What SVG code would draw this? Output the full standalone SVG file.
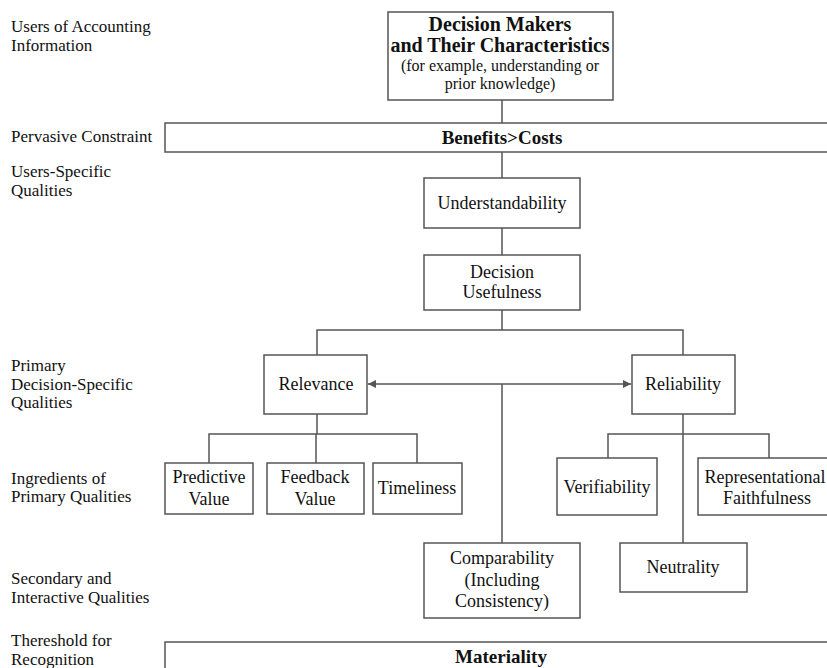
<svg xmlns="http://www.w3.org/2000/svg" width="827" height="668" viewBox="0 0 827 668">
<style>
.box{fill:#fff;stroke:#555;stroke-width:1.5}
.t{font-family:"Liberation Serif","Times New Roman",serif;font-size:18px;fill:#111;text-anchor:middle}
.b{font-family:"Liberation Serif","Times New Roman",serif;font-size:20px;font-weight:bold;fill:#111;text-anchor:middle}
.s{font-family:"Liberation Serif","Times New Roman",serif;font-size:16px;fill:#111;text-anchor:middle}
.lbl{font-family:"Liberation Serif","Times New Roman",serif;font-size:17px;fill:#111}
.c{stroke:#555;stroke-width:1.5;fill:none}
</style>
<defs>
<marker id="ah" viewBox="0 0 10 10" refX="10" refY="5" markerWidth="11" markerHeight="8" markerUnits="userSpaceOnUse" orient="auto-start-reverse">
<path d="M0,0 L10,5 L0,10 z" fill="#555"/>
</marker>
</defs>
<rect width="827" height="668" fill="#fff"/>
<g id="labels">
<text class="lbl" x="11" y="32">Users of Accounting</text>
<text class="lbl" x="11" y="51">Information</text>
<text class="lbl" x="11" y="142">Pervasive Constraint</text>
<text class="lbl" x="11" y="177">Users-Specific</text>
<text class="lbl" x="11" y="196">Qualities</text>
<text class="lbl" x="11" y="371">Primary</text>
<text class="lbl" x="11" y="390">Decision-Specific</text>
<text class="lbl" x="11" y="408">Qualities</text>
<text class="lbl" x="11" y="484">Ingredients of</text>
<text class="lbl" x="11" y="502">Primary Qualities</text>
<text class="lbl" x="11" y="584">Secondary and</text>
<text class="lbl" x="11" y="603">Interactive Qualities</text>
<text class="lbl" x="11" y="646">Thereshold for</text>
<text class="lbl" x="11" y="665">Recognition</text>
</g>
<g id="connectors">
<line class="c" x1="502" y1="100" x2="502" y2="123"/>
<line class="c" x1="502" y1="152" x2="502" y2="178"/>
<line class="c" x1="502" y1="228" x2="502" y2="255"/>
<line class="c" x1="502" y1="310" x2="502" y2="330"/>
<polyline class="c" points="317,355 317,330 683,330 683,355"/>
<line class="c" x1="368" y1="384" x2="631" y2="384" marker-start="url(#ah)" marker-end="url(#ah)"/>
<line class="c" x1="502" y1="384" x2="502" y2="543"/>
<line class="c" x1="317" y1="414" x2="317" y2="434"/>
<polyline class="c" points="209,463 209,434 417,434 417,463"/>
<line class="c" x1="316" y1="434" x2="316" y2="463"/>
<line class="c" x1="683" y1="414" x2="683" y2="543"/>
<polyline class="c" points="608,458 608,434 769,434 769,458"/>
</g>
<g id="decision-makers">
<rect class="box" x="388" y="12" width="225" height="88"/>
<text class="b" x="500" y="31">Decision Makers</text>
<text class="b" x="500" y="52">and Their Characteristics</text>
<text class="s" x="500" y="71">(for example, understanding or</text>
<text class="s" x="500" y="89">prior knowledge)</text>
</g>
<g id="benefits-costs">
<rect class="box" x="165" y="123" width="670" height="29"/>
<text class="b" x="502" y="144" style="font-size:19px">Benefits&gt;Costs</text>
</g>
<g id="understandability">
<rect class="box" x="424" y="178" width="156" height="50"/>
<text class="t" x="502" y="209">Understandability</text>
</g>
<g id="decision-usefulness">
<rect class="box" x="424" y="255" width="156" height="55"/>
<text class="t" x="502" y="278">Decision</text>
<text class="t" x="502" y="298">Usefulness</text>
</g>
<g id="relevance">
<rect class="box" x="264" y="355" width="103" height="59"/>
<text class="t" x="316" y="390">Relevance</text>
</g>
<g id="reliability">
<rect class="box" x="632" y="355" width="103" height="59"/>
<text class="t" x="683" y="390">Reliability</text>
</g>
<g id="predictive-value">
<rect class="box" x="165" y="463" width="88" height="51"/>
<text class="t" x="209" y="483">Predictive</text>
<text class="t" x="209" y="505">Value</text>
</g>
<g id="feedback-value">
<rect class="box" x="267" y="463" width="97" height="51"/>
<text class="t" x="315" y="483">Feedback</text>
<text class="t" x="315" y="505">Value</text>
</g>
<g id="timeliness">
<rect class="box" x="373" y="463" width="89" height="51"/>
<text class="t" x="417" y="494">Timeliness</text>
</g>
<g id="verifiability">
<rect class="box" x="557" y="458" width="100" height="57"/>
<text class="t" x="607" y="493">Verifiability</text>
</g>
<g id="representational-faithfulness">
<rect class="box" x="698" y="458" width="140" height="57"/>
<text class="t" x="765" y="483">Representational</text>
<text class="t" x="767" y="504">Faithfulness</text>
</g>
<g id="comparability">
<rect class="box" x="424" y="543" width="156" height="75"/>
<text class="t" x="502" y="564">Comparability</text>
<text class="t" x="502" y="586">(Including</text>
<text class="t" x="502" y="607">Consistency)</text>
</g>
<g id="neutrality">
<rect class="box" x="620" y="543" width="127" height="49"/>
<text class="t" x="683" y="573">Neutrality</text>
</g>
<g id="materiality">
<rect class="box" x="165" y="642" width="670" height="40"/>
<text class="b" x="501" y="663" style="font-size:19px">Materiality</text>
</g>
</svg>
